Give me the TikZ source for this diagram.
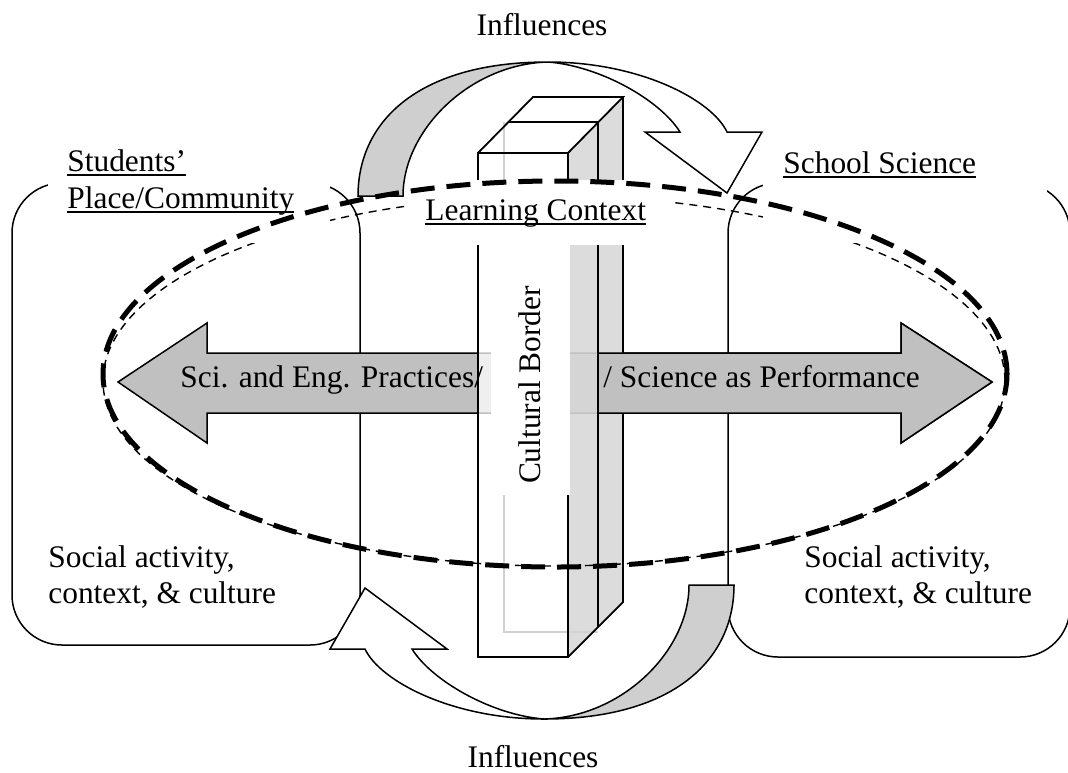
\documentclass[tikz,border=0pt]{standalone}
\usepackage{fontspec}
\setmainfont{Liberation Serif}
\newsavebox\ulbox
\newcommand{\ulin}[1]{\sbox\ulbox{#1}\rlap{\rule[-2.6pt]{\wd\ulbox}{0.9pt}}\usebox\ulbox}
\definecolor{arrowgray}{HTML}{C0C0C0}
\definecolor{crescentgray}{HTML}{CFCFCF}
\definecolor{sidegray}{HTML}{D8D8D8}
\newcommand{\influencearrow}{%
  \filldraw[fill=crescentgray, line width=0.75pt] (358,196) .. controls (358,120) and (420,62) .. (548,62) .. controls (470,64) and (403,130) .. (403,196) -- cycle;
  \filldraw[fill=white, line width=0.75pt, line join=miter] (548,62) .. controls (640,62) and (712,100) .. (727,132) -- (762,132) -- (727,193) -- (645,132) -- (680,132) .. controls (660,100) and (600,66) .. (548,62) -- cycle;
}
\begin{document}
\begin{tikzpicture}[x=0.5pt,y=-0.5pt,
  lbl/.style={font=\fontsize{15.7pt}{18.5pt}\selectfont, inner sep=0pt, anchor=base west},
  boxline/.style={line width=0.75pt, rounded corners=25pt},
  harrow/.style={fill=arrowgray, draw=black, line width=0.75pt, line join=miter},
  pillarline/.style={line width=0.9pt, line join=miter},
  thinell/.style={line width=0.7pt, dash pattern=on 4pt off 3pt},
  thickell/.style={line width=2.5pt, dash pattern=on 12pt off 6pt}]
\useasboundingbox (0,0) rectangle (1068,772);
\clip (0,0) rectangle (1068,772);

% community boxes
\draw[boxline] (12,183) rectangle (360,645);
\draw[boxline] (728,183) rectangle (1070,657);

% horizontal double arrow
\draw[harrow] (118,382) -- (207,323) -- (207,353) -- (901,353) -- (901,323) -- (992,382) -- (901,443) -- (901,413) -- (207,413) -- (207,443) -- cycle;

% pillar (cultural border)
\fill[white, fill opacity=0.75] (478,153) rectangle (568,657);
\fill[sidegray, fill opacity=0.9] (568,153) -- (623,97) -- (623,602) -- (568,657) -- cycle;
\fill[white] (478,153) -- (533,97) -- (623,97) -- (568,153) -- cycle;
\draw[gray!35, line width=0.8pt] (504,122) -- (504,632) -- (598,632);
\draw[pillarline] (478,153) rectangle (568,657);
\draw[pillarline] (478,153) -- (533,97) -- (623,97) -- (568,153);
\draw[pillarline] (623,97) -- (623,602) -- (568,657);
\draw[pillarline] (509,122) -- (598,122);
\fill[white] (491,245) rectangle (569.5,495);
\node[lbl, rotate=90, anchor=base] (cb) at (540,385) {Cultural Border};

% right part of arrow in front of the slice
\fill[arrowgray] (598,353) -- (901,353) -- (901,323) -- (992,382) -- (901,443) -- (901,413) -- (598,413) -- cycle;
\draw[line width=0.75pt, line join=miter] (598,353) -- (901,353) -- (901,323) -- (992,382) -- (901,443) -- (901,413) -- (598,413);
\draw[pillarline] (598,122) -- (598,627);

\node[lbl] (sep) at (180,387) {Sci. and Eng. Practices/};
\node[lbl] (sap) at (603,387) {/ Science as Performance};

% thin dashed ellipse
\draw[thinell] (554,381) ellipse [x radius=225.5pt, y radius=92.5pt];

% label boxes
\fill[white] (48,118) rectangle (330,243);
\fill[white] (763,118) rectangle (1047,243);
\node[lbl] (stu1) at (67,171) {\ulin{Students’}};
\node[lbl] (stu2) at (67,208) {\ulin{Place/Community}};
\node[lbl] (ss) at (783,173) {\ulin{School Science}};
\fill[white] (405,180) rectangle (675,245);
\node[lbl] (lc) at (425,220) {\ulin{Learning Context}};

% curved influence arrows
\influencearrow
\begin{scope}[rotate around={180:(546,390.5)}]
\influencearrow
\end{scope}

% thick dashed ellipse
\draw[thickell] (555,374) ellipse [x radius=226pt, y radius=96.5pt];

% texts
\node[lbl, anchor=base] (inf1) at (542,35) {Influences};
\node[lbl, anchor=base] (inf2) at (533,767) {Influences};
\node[lbl] (sl1) at (48,567) {Social activity,};
\node[lbl] (sl2) at (48,603) {context, \& culture};
\node[lbl] (sr1) at (804,567) {Social activity,};
\node[lbl] (sr2) at (804,603) {context, \& culture};
\end{tikzpicture}
\end{document}
